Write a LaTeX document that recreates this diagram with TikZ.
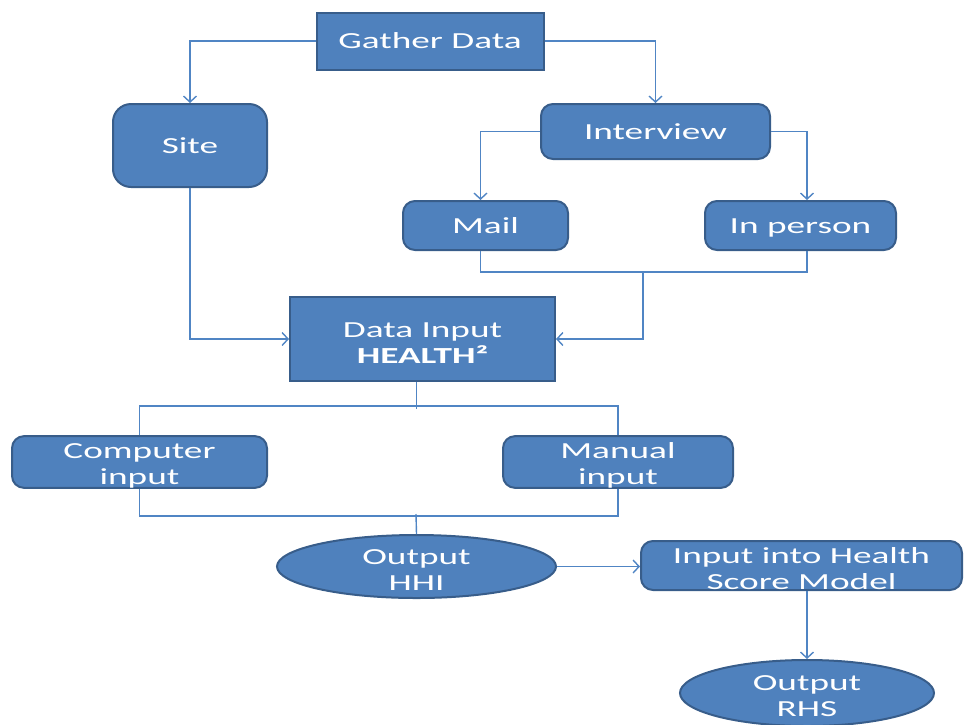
\documentclass[tikz,border=0pt]{standalone}
\usepackage{fontspec}
\setmainfont{Carlito}[FakeStretch=1.62]
\usetikzlibrary{shapes.geometric,arrows.meta}
\definecolor{fillb}{HTML}{4F81BD}
\definecolor{edgeb}{HTML}{385D8A}
\definecolor{lineb}{HTML}{5085C4}
\newcommand{\topstrut}{\rule{0pt}{22pt}}
\begin{document}
\begin{tikzpicture}[x=1pt,y=-1pt,
  base/.style={fill=fillb,draw=edgeb,line width=2pt,text=white,
    font=\fontsize{23}{26}\selectfont,align=center,inner sep=0pt},
  one/.style={text height=18pt,text depth=3pt},
  box/.style={base,rectangle},
  rbox/.style={base,rectangle,rounded corners=12pt},
  oval/.style={base,ellipse,inner ysep=-8pt},
  conn/.style={draw=lineb,line width=1.4pt},
  arr/.style={conn,-{Straight Barb[length=6pt,width=13pt]}}]
\useasboundingbox (0,0) rectangle (964,724);
\clip (0,0) rectangle (964,724);
\node[box,one,minimum width=227,minimum height=57] (gather) at (430,41) {Gather Data};
\node[rbox,one,rounded corners=18pt,minimum width=154,minimum height=83] (site) at (190,145.5) {Site};
\node[rbox,one,minimum width=229,minimum height=55] (interview) at (655.5,131.5) {Interview};
\node[rbox,one,minimum width=165,minimum height=49] (mail) at (485.5,225.5) {Mail};
\node[rbox,one,minimum width=191,minimum height=49] (inperson) at (800.5,225.5) {In person};
\node[box,minimum width=265,minimum height=84] (data) at (422.5,339) {\topstrut Data Input\\\textbf{HEALTH²}};
\node[rbox,minimum width=255,minimum height=50] (comp) at (139.5,462) {\topstrut Computer\\input};
\node[rbox,minimum width=230,minimum height=50] (manual) at (618,462) {\topstrut Manual\\input};
\node[oval,minimum width=279,minimum height=63] (hhi) at (416.5,566.5) {\topstrut Output\\HHI};
\node[rbox,minimum width=321,minimum height=49] (model) at (801.5,565.5) {\topstrut Input into Health\\Score Model};
\node[oval,minimum width=254,minimum height=66] (rhs) at (807,693) {\topstrut Output\\RHS};
\coordinate (j1) at (643,271);
\coordinate (j3) at (416,514);
\draw[arr] (gather.west) -| (site.north);
\draw[arr] (gather.east) -| (interview.north);
\draw[arr] (interview.west) -| ([xshift=-5pt]mail.north);
\draw[arr] (interview.east) -| ([xshift=6.5pt]inperson.north);
\draw[conn] ([xshift=-5pt]mail.south) -- ++(0,21) -| ([xshift=6.5pt]inperson.south);
\draw[arr] (j1) |- (data.east);
\draw[arr] (site.south) |- (data.west);
\draw[conn] ([xshift=-6pt]data.south) -- ++(0,27);
\draw[conn] (comp.north) -- ++(0,-29) -| (manual.north);
\draw[conn] (comp.south) -- ++(0,27) -| (manual.south);
\draw[conn] (j3) -- (hhi.north);
\draw[arr] (hhi.east) -- (hhi.east -| model.west);
\draw[arr] (rhs.north |- model.south) -- (rhs.north);
\end{tikzpicture}
\end{document}
